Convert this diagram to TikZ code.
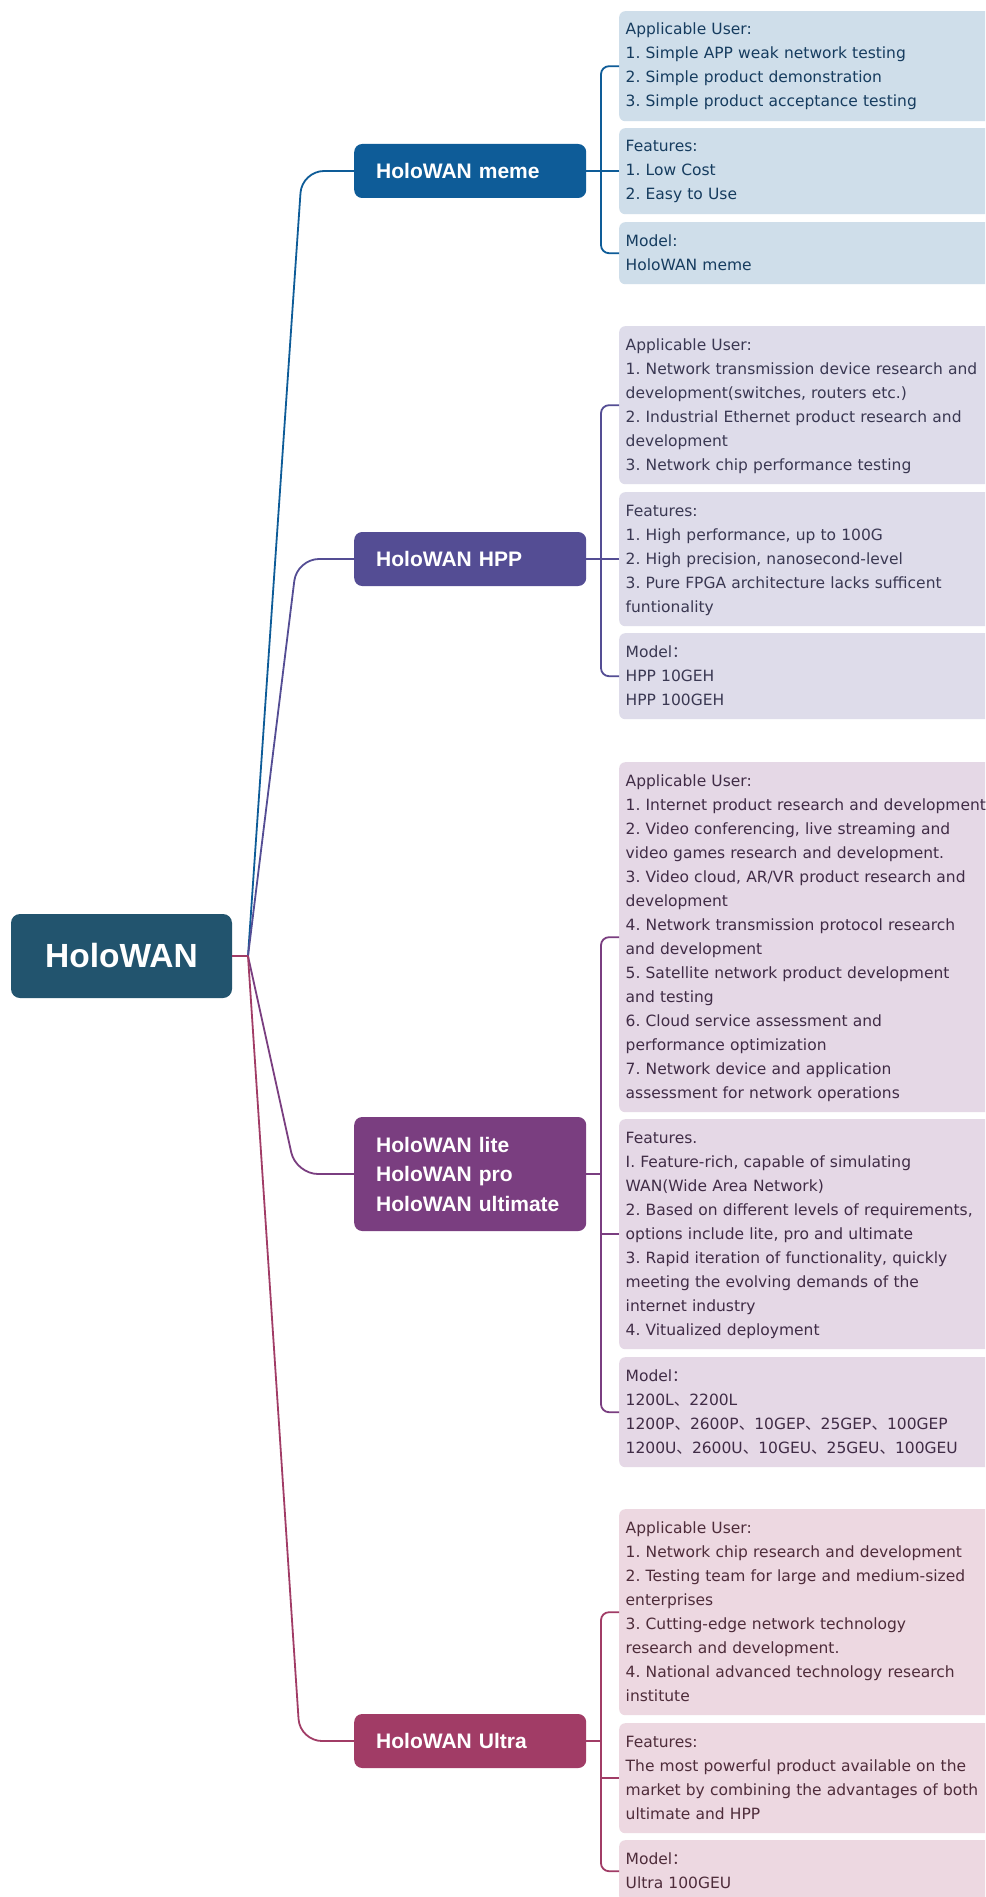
\documentclass[tikz,border=0pt]{standalone}
\usepackage{fontspec}
\setmainfont{DejaVu Sans}
\newfontfamily\headfont{Liberation Sans}
\newfontfamily\cjk{Noto Sans CJK SC}
\newcommand{\wcolon}{{\cjk ：}}
\newcommand{\wcomma}{{\cjk 、}}
\frenchspacing

\definecolor{rootcolor}{rgb}{0.133, 0.329, 0.431}
\definecolor{memecolor}{rgb}{0.055, 0.361, 0.596}
\definecolor{hppcolor}{rgb}{0.329, 0.302, 0.580}
\definecolor{litecolor}{rgb}{0.478, 0.243, 0.502}
\definecolor{ultracolor}{rgb}{0.631, 0.235, 0.400}
\definecolor{memefill}{rgb}{0.812, 0.871, 0.918}
\definecolor{hppfill}{rgb}{0.871, 0.863, 0.918}
\definecolor{litefill}{rgb}{0.898, 0.847, 0.902}
\definecolor{ultrafill}{rgb}{0.929, 0.847, 0.882}
\definecolor{memetext}{rgb}{0.086, 0.235, 0.373}
\definecolor{hpptext}{rgb}{0.227, 0.220, 0.322}
\definecolor{litetext}{rgb}{0.251, 0.173, 0.275}
\definecolor{ultratext}{rgb}{0.306, 0.173, 0.227}

\newlength{\du}
\setlength{\du}{1pt}

\tikzset{
  rootbox/.style={fill=rootcolor, rounded corners=9\du, minimum width=221\du,
    minimum height=84\du, text=white, inner sep=0pt,
    font=\headfont\bfseries\fontsize{33.5}{40}\selectfont},
  branchbox/.style={fill=#1, rounded corners=8\du, anchor=west, minimum width=232\du,
    minimum height=54\du, text width=188\du, inner xsep=22\du, inner ysep=0pt,
    align=left, text=white, font=\headfont\bfseries\fontsize{21}{29.5}\selectfont},
  infobox/.style 2 args={fill=#1, text=#2, rounded corners=6\du, anchor=north west,
    text width=364\du, inner xsep=6.5\du, inner ysep=7\du, align=left,
    font=\fontsize{15.5}{24}\selectfont,
    execute at begin node=\strut, execute at end node=\strut},
  link/.style={draw=#1, line width=1.8\du, rounded corners=8\du},
  fan/.style={draw=#1, line width=1.8\du, rounded corners=22\du},
}

\begin{document}
\begin{tikzpicture}[x=\du, y=-\du]
\path[use as bounding box] (0,0) rectangle (985,1897);
\fill[white] (0,0) rectangle (985,1897);
\clip (0,0) rectangle (985,1897);

% root
\node[rootbox] (root) at (121.5,956) {HoloWAN};
\coordinate (hub) at (248,956);

% branches
\node[branchbox=memecolor] (meme) at (354,171) {HoloWAN meme};
\node[branchbox=hppcolor] (hpp) at (354,559) {HoloWAN HPP};
\node[branchbox=litecolor, minimum height=114\du] (lite) at (354,1174) {HoloWAN lite\\HoloWAN pro\\HoloWAN ultimate};
\node[branchbox=ultracolor] (ultra) at (354,1741) {HoloWAN Ultra};

% meme details
\node[infobox={memefill}{memetext}] (meme1) at (619,11) {Applicable User:\\1. Simple APP weak network testing\\2. Simple product demonstration\\3. Simple product acceptance testing};
\node[infobox={memefill}{memetext}] (meme2) at (619,128) {Features:\\1. Low Cost\\2. Easy to Use};
\node[infobox={memefill}{memetext}] (meme3) at (619,222) {Model:\\HoloWAN meme};

% hpp details
\node[infobox={hppfill}{hpptext}] (hpp1) at (619,326) {Applicable User:\\1. Network transmission device research and\\development(switches, routers etc.)\\2. Industrial Ethernet product research and\\development\\3. Network chip performance testing};
\node[infobox={hppfill}{hpptext}] (hpp2) at (619,492) {Features:\\1. High performance, up to 100G\\2. High precision, nanosecond-level\\3. Pure FPGA architecture lacks sufficent\\funtionality};
\node[infobox={hppfill}{hpptext}] (hpp3) at (619,633) {Model\wcolon\\HPP 10GEH\\HPP 100GEH};

% lite details
\node[infobox={litefill}{litetext}] (lite1) at (619,762) {Applicable User:\\1. Internet product research and development\\2. Video conferencing, live streaming and\\video games research and development.\\3. Video cloud, AR/VR product research and\\development\\4. Network transmission protocol research\\and development\\5. Satellite network product development\\and testing\\6. Cloud service assessment and\\performance optimization\\7. Network device and application\\assessment for network operations};
\node[infobox={litefill}{litetext}] (lite2) at (619,1119) {Features.\\I. Feature-rich, capable of simulating\\WAN(Wide Area Network)\\2. Based on different levels of requirements,\\options include lite, pro and ultimate\\3. Rapid iteration of functionality, quickly\\meeting the evolving demands of the\\internet industry\\4. Vitualized deployment};
\node[infobox={litefill}{litetext}] (lite3) at (619,1357) {Model\wcolon\\1200L\wcomma 2200L\\1200P\wcomma 2600P\wcomma 10GEP\wcomma 25GEP\wcomma 100GEP\\1200U\wcomma 2600U\wcomma 10GEU\wcomma 25GEU\wcomma 100GEU};

% ultra details
\node[infobox={ultrafill}{ultratext}] (ultra1) at (619,1509) {Applicable User:\\1. Network chip research and development\\2. Testing team for large and medium-sized\\enterprises\\3. Cutting-edge network technology\\research and development.\\4. National advanced technology research\\institute};
\node[infobox={ultrafill}{ultratext}] (ultra2) at (619,1723) {Features:\\The most powerful product available on the\\market by combining the advantages of both\\ultimate and HPP};
\node[infobox={ultrafill}{ultratext}] (ultra3) at (619,1840) {Model\wcolon\\Ultra 100GEU};

% root to branches
\draw[fan=memecolor] (hub) -- ([xshift=-52pt]meme.west) -- (meme.west);
\draw[fan=hppcolor] (hub) -- ([xshift=-57pt]hpp.west) -- (hpp.west);
\draw[fan=litecolor] (hub) -- ([xshift=-58pt]lite.west) -- (lite.west);
\draw[fan=ultracolor] (hub) -- ([xshift=-54pt]ultra.west) -- (ultra.west);
\draw[line width=1.8\du, draw=ultracolor] (root.east) -- (hub);

% brackets
\foreach \b/\c in {meme/memecolor, hpp/hppcolor, lite/litecolor, ultra/ultracolor}{
  \draw[link=\c] (\b1.west) -- ++(-18,0) |- (\b3.west);
  \draw[link=\c] (\b2.west) -- ++(-18,0);
  \draw[link=\c] (\b.east) -- ++(15,0);
}
\end{tikzpicture}
\end{document}
